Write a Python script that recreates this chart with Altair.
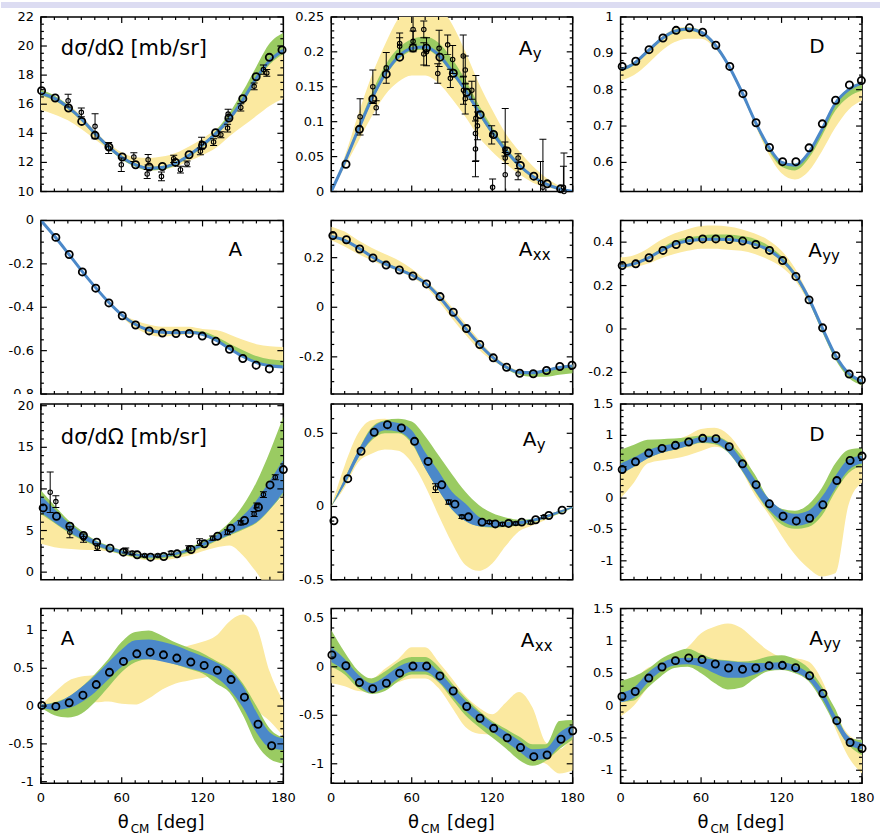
import altair as alt
import numpy as np
import pandas as pd

FONT = "DejaVu Sans"
YELLOW = "#fbe9a0"
GREEN = "#9acb62"
BLUE = "#4b88c9"
BAR = "#dcdcf2"

theta = [0, 10, 20, 30, 40, 50, 60, 70, 80, 90, 100, 110, 120, 130, 140, 150, 160, 170, 180]
x_labels = [0, 60, 120, 180]

# ---------------- panel 1 : dsigma/dOmega (upper set)
p1_line = [16.75, 16.4, 15.8, 15.0, 14.0, 13.1, 12.35, 11.85, 11.6, 11.65, 11.95, 12.5, 13.2, 14.0, 15.0, 16.3, 17.8, 19.0, 19.7]
p1_grn_lo = [16.6, 16.25, 15.65, 14.85, 13.85, 12.95, 12.2, 11.7, 11.45, 11.5, 11.8, 12.35, 13.05, 13.85, 14.85, 16.1, 17.55, 18.75, 19.45]
p1_grn_hi = [17.0, 16.6, 15.95, 15.1, 14.1, 13.2, 12.45, 11.95, 11.7, 11.75, 12.05, 12.6, 13.3, 14.2, 15.4, 16.9, 18.6, 20.2, 20.9]
p1_yel_lo = [15.6, 15.3, 14.9, 14.3, 13.6, 12.9, 12.2, 11.7, 11.45, 11.5, 11.7, 12.1, 12.5, 13.0, 13.8, 14.5, 15.2, 15.9, 16.4]
p1_yel_hi = [16.85, 16.5, 16.0, 15.2, 14.2, 13.3, 12.7, 12.35, 12.3, 12.4, 12.65, 13.1, 13.65, 14.3, 15.05, 16.3, 17.8, 19.0, 19.6]
p1_px = [0.5, 10.6, 20.5, 30.3, 40.2, 50.5, 60.4, 70.3, 80.4, 90.2, 99.9, 110, 120, 129.7, 139.6, 149.9, 159.8, 169.6, 179]
p1_py = [16.93, 16.43, 15.74, 14.82, 13.86, 13.06, 12.37, 11.84, 11.68, 11.72, 12.0, 12.53, 13.17, 14.04, 15.05, 16.38, 17.89, 19.22, 19.73]
p1_ex = [20.2, 30.0, 40.2, 50.3, 59.7, 69.0, 79.6, 78.9, 89.5, 98.6, 103.6, 108.5, 118.4, 119.3, 128.2, 133.6, 138.6, 139.0, 148.4, 158.3, 165.2, 167.7]
p1_ey = [16.24, 15.44, 14.48, 12.99, 11.84, 12.37, 12.18, 11.2, 11.04, 12.25, 11.5, 11.9, 12.76, 13.33, 13.4, 13.9, 14.36, 15.32, 15.78, 17.23, 18.38, 18.15]
p1_ee = [0.44, 0.3, 0.86, 0.38, 0.46, 0.3, 0.36, 0.31, 0.3, 0.25, 0.23, 0.2, 0.23, 0.4, 0.23, 0.2, 0.27, 0.34, 0.25, 0.23, 0.32, 0.23]

# ---------------- panel 2 : Ay (upper set)
p2_line = [0, 0.042, 0.088, 0.132, 0.168, 0.193, 0.205, 0.207, 0.196, 0.172, 0.145, 0.114, 0.085, 0.059, 0.038, 0.022, 0.011, 0.004, 0]
p2_grn_lo = [0, 0.039, 0.084, 0.128, 0.164, 0.189, 0.201, 0.203, 0.192, 0.168, 0.141, 0.11, 0.081, 0.056, 0.035, 0.02, 0.009, 0.003, 0]
p2_grn_hi = [0, 0.045, 0.093, 0.14, 0.18, 0.205, 0.218, 0.222, 0.213, 0.19, 0.16, 0.124, 0.092, 0.064, 0.041, 0.024, 0.012, 0.005, 0]
p2_yel_lo = [0, 0.035, 0.071, 0.107, 0.138, 0.157, 0.166, 0.166, 0.155, 0.133, 0.107, 0.078, 0.057, 0.040, 0.025, 0.013, 0.006, 0.002, 0]
p2_yel_hi = [0, 0.05, 0.11, 0.165, 0.21, 0.248, 0.27, 0.275, 0.265, 0.24, 0.20, 0.155, 0.117, 0.083, 0.058, 0.037, 0.02, 0.008, 0]
p2_px = [11, 21, 31, 41, 51, 61, 71, 81, 91, 101, 111, 121, 131, 141, 151, 161, 171]
p2_py = [0.039, 0.089, 0.1325, 0.168, 0.1924, 0.2054, 0.2054, 0.1924, 0.1694, 0.142, 0.110, 0.0816, 0.058, 0.0374, 0.022, 0.011, 0.0038]
p2_ex = [21.5, 31, 33.5, 41, 51, 51, 61, 61, 69, 69, 71, 80.4, 79.4, 86.8, 88.8, 90.5, 98.4, 99.9, 98.6, 104.8, 99.9, 107.8, 107.5, 107.5, 109, 119.6, 120.3, 129.5, 129.7, 129.7, 139.3, 139.3, 156, 157.8, 173.1, 173.5]
p2_ey = [0.107, 0.150, 0.12, 0.177, 0.212, 0.208, 0.232, 0.215, 0.232, 0.197, 0.20, 0.205, 0.169, 0.21, 0.162, 0.189, 0.194, 0.174, 0.145, 0.145, 0.133, 0.105, 0.083, 0.061, 0.094, 0.081, 0.006, 0.061, 0.048, 0.024, 0.048, 0.025, 0.013, 0.006, 0.006, 0.0]
p2_ee = [0.026, 0.024, 0.01, 0.022, 0.015, 0.012, 0.021, 0.015, 0.012, 0.016, 0.02, 0.026, 0.014, 0.014, 0.013, 0.02, 0.03, 0.02, 0.02, 0.013, 0.022, 0.061, 0.04, 0.04, 0.02, 0.013, 0.012, 0.01, 0.008, 0.095, 0.006, 0.008, 0.03, 0.069, 0.03, 0.055]

# ---------------- panel 3 : D (upper set)
p3_line = [0.855, 0.872, 0.905, 0.938, 0.960, 0.967, 0.958, 0.925, 0.870, 0.797, 0.715, 0.645, 0.600, 0.592, 0.625, 0.690, 0.762, 0.800, 0.818]
p3_grn_lo = [0.85, 0.867, 0.9, 0.933, 0.955, 0.962, 0.953, 0.92, 0.865, 0.79, 0.708, 0.635, 0.588, 0.578, 0.61, 0.672, 0.742, 0.78, 0.798]
p3_grn_hi = [0.859, 0.876, 0.909, 0.942, 0.964, 0.971, 0.962, 0.929, 0.874, 0.801, 0.719, 0.649, 0.604, 0.596, 0.629, 0.694, 0.766, 0.804, 0.822]
p3_yel_lo = [0.825, 0.84, 0.87, 0.905, 0.93, 0.94, 0.94, 0.915, 0.865, 0.79, 0.705, 0.625, 0.57, 0.553, 0.575, 0.63, 0.695, 0.745, 0.77]
p3_yel_hi = [0.86, 0.876, 0.91, 0.943, 0.967, 0.973, 0.963, 0.93, 0.875, 0.8, 0.718, 0.648, 0.603, 0.596, 0.628, 0.693, 0.765, 0.803, 0.82]
p3_px = [1.2, 11.3, 21.2, 31.6, 41.4, 51.3, 61.2, 71, 81.4, 91.2, 101, 111, 120.8, 130.7, 140.5, 150.4, 160.3, 170.6, 179.5]
p3_py = [0.864, 0.878, 0.910, 0.942, 0.963, 0.970, 0.958, 0.922, 0.864, 0.789, 0.709, 0.641, 0.602, 0.602, 0.640, 0.706, 0.771, 0.813, 0.825]

# ---------------- panel 4 : A (upper set)
p4_line = [0, -0.072, -0.150, -0.230, -0.305, -0.375, -0.435, -0.478, -0.505, -0.515, -0.517, -0.515, -0.525, -0.552, -0.59, -0.627, -0.655, -0.67, -0.675]
p4_grn_lo = [0, -0.076, -0.155, -0.235, -0.31, -0.38, -0.44, -0.483, -0.51, -0.52, -0.522, -0.52, -0.53, -0.557, -0.595, -0.632, -0.66, -0.675, -0.68]
p4_grn_hi = [0, -0.07, -0.148, -0.228, -0.303, -0.372, -0.432, -0.474, -0.5, -0.51, -0.512, -0.508, -0.512, -0.535, -0.568, -0.598, -0.625, -0.64, -0.645]
p4_yel_lo = [0, -0.074, -0.152, -0.232, -0.308, -0.378, -0.445, -0.495, -0.525, -0.535, -0.53, -0.525, -0.53, -0.55, -0.585, -0.62, -0.645, -0.66, -0.665]
p4_yel_hi = [0, -0.07, -0.148, -0.228, -0.302, -0.37, -0.43, -0.46, -0.48, -0.49, -0.49, -0.49, -0.50, -0.505, -0.525, -0.55, -0.57, -0.58, -0.583]
p4_px = [11.1, 21, 30.8, 40.7, 50.5, 60.4, 70.3, 80.4, 90.2, 100.3, 110.2, 119.8, 129.9, 140, 149.9, 159.8, 169.6]
p4_py = [-0.078, -0.157, -0.237, -0.312, -0.380, -0.439, -0.482, -0.509, -0.519, -0.521, -0.521, -0.533, -0.557, -0.594, -0.636, -0.667, -0.684]

# ---------------- panel 5 : Axx (upper set)
p5_line = [0.285, 0.27, 0.24, 0.205, 0.175, 0.153, 0.13, 0.098, 0.045, -0.02, -0.085, -0.147, -0.2, -0.24, -0.262, -0.264, -0.255, -0.243, -0.237]
p5_grn_lo = [0.28, 0.265, 0.235, 0.2, 0.17, 0.148, 0.125, 0.093, 0.04, -0.025, -0.09, -0.152, -0.206, -0.248, -0.272, -0.28, -0.28, -0.272, -0.266]
p5_grn_hi = [0.29, 0.275, 0.245, 0.21, 0.18, 0.158, 0.135, 0.103, 0.05, -0.015, -0.08, -0.142, -0.195, -0.235, -0.257, -0.259, -0.25, -0.238, -0.232]
p5_yel_lo = [0.27, 0.245, 0.215, 0.19, 0.165, 0.145, 0.12, 0.085, 0.025, -0.045, -0.11, -0.17, -0.215, -0.245, -0.265, -0.268, -0.258, -0.246, -0.24]
p5_yel_hi = [0.325, 0.305, 0.27, 0.24, 0.215, 0.19, 0.155, 0.11, 0.06, 0.0, -0.065, -0.13, -0.19, -0.23, -0.255, -0.26, -0.25, -0.238, -0.232]
p5_px = [1.2, 11.3, 21.2, 31.1, 40.9, 50.8, 60.9, 71, 81.1, 91, 100.8, 110.7, 120.8, 130.7, 140.5, 150.6, 160.5, 170.4, 179.5]
p5_py = [0.289, 0.272, 0.235, 0.199, 0.170, 0.150, 0.126, 0.094, 0.043, -0.020, -0.086, -0.150, -0.204, -0.242, -0.266, -0.268, -0.255, -0.239, -0.234]

# ---------------- panel 6 : Ayy (upper set)
p6_line = [0.29, 0.30, 0.325, 0.36, 0.39, 0.405, 0.412, 0.413, 0.412, 0.405, 0.39, 0.365, 0.32, 0.25, 0.145, 0.01, -0.12, -0.205, -0.24]
p6_grn_lo = [0.285, 0.295, 0.32, 0.355, 0.385, 0.4, 0.407, 0.408, 0.405, 0.398, 0.383, 0.357, 0.31, 0.238, 0.13, -0.01, -0.14, -0.225, -0.26]
p6_grn_hi = [0.295, 0.306, 0.332, 0.37, 0.405, 0.422, 0.43, 0.435, 0.435, 0.428, 0.415, 0.385, 0.335, 0.26, 0.152, 0.015, -0.115, -0.2, -0.235]
p6_yel_lo = [0.28, 0.285, 0.30, 0.325, 0.345, 0.36, 0.37, 0.37, 0.365, 0.36, 0.345, 0.32, 0.285, 0.225, 0.125, 0.0, -0.13, -0.215, -0.25]
p6_yel_hi = [0.33, 0.34, 0.37, 0.41, 0.44, 0.46, 0.475, 0.477, 0.472, 0.46, 0.44, 0.41, 0.36, 0.28, 0.16, 0.02, -0.11, -0.2, -0.235]
p6_px = [1.2, 11.3, 21.2, 31.6, 41.4, 51.3, 61.2, 71, 81.1, 91, 100.8, 111, 120.8, 130.7, 140.5, 150.6, 160.5, 170.4, 179.5]
p6_py = [0.292, 0.30, 0.328, 0.362, 0.389, 0.408, 0.415, 0.415, 0.412, 0.405, 0.389, 0.362, 0.315, 0.242, 0.134, 0.005, -0.123, -0.208, -0.235]

# ---------------- panel 7 : dsigma/dOmega (lower set)
p7_blu_lo = [7.2, 6.0, 4.9, 4.0, 3.3, 2.7, 2.25, 1.95, 1.75, 1.8, 2.05, 2.5, 3.1, 3.8, 4.5, 5.2, 6.0, 7.6, 9.6]
p7_blu_hi = [9.2, 7.6, 6.0, 4.8, 3.8, 3.1, 2.6, 2.25, 2.05, 2.1, 2.35, 2.85, 3.5, 4.4, 5.5, 6.8, 8.6, 11.0, 13.5]
p7_grn_lo = [7.0, 5.9, 4.8, 3.9, 3.2, 2.6, 2.15, 1.8, 1.6, 1.65, 1.9, 2.35, 2.95, 3.7, 4.4, 5.1, 5.9, 7.5, 9.4]
p7_grn_hi = [9.8, 8.0, 6.3, 5.0, 3.9, 3.2, 2.65, 2.3, 2.1, 2.15, 2.4, 2.95, 3.65, 4.6, 6.0, 8.0, 10.8, 14.5, 18.7]
p7_yel_lo = [3.4, 3.0, 2.8, 2.7, 2.65, 2.5, 2.1, 1.7, 1.45, 1.45, 1.65, 2.0, 2.5, 2.95, 3.2, 2.0, 0.0, -2.0, -2.0]
p7_yel_hi = [7.0, 6.2, 5.3, 4.4, 3.7, 3.1, 2.65, 2.3, 2.05, 2.05, 2.3, 2.75, 3.3, 3.8, 4.4, 5.2, 6.0, 7.5, 9.2]
p7_px = [1.7, 11.6, 21.5, 31.6, 41.4, 51.3, 61.2, 71.5, 81.4, 91.2, 101.1, 111.5, 121.3, 131.2, 141, 151.2, 161.5, 170.1, 180]
p7_py = [7.72, 6.72, 5.52, 4.4, 3.6, 2.88, 2.4, 2.08, 1.8, 1.88, 2.2, 2.72, 3.4, 4.32, 5.28, 6.2, 7.8, 10.48, 12.32]
p7_ex = [6.9, 11.1, 21.5, 31.6, 41.9, 63, 67.8, 77, 86.8, 96.7, 109.7, 117.8, 127.5, 138.5, 148.4, 158.3, 160.3, 165.2, 174]
p7_ey = [9.6, 8.48, 4.8, 4.08, 3.0, 2.6, 2.3, 2.0, 2.0, 2.32, 2.88, 3.6, 4.08, 4.8, 5.92, 7.0, 8.0, 9.32, 11.4]
p7_ee = [2.44, 0.7, 0.66, 0.5, 0.4, 0.3, 0.2, 0.15, 0.15, 0.2, 0.3, 0.4, 0.25, 0.3, 0.25, 0.3, 0.3, 0.35, 0.3]

# ---------------- panel 8 : Ay (lower set)
p8_blu_lo = [0, 0.15, 0.33, 0.46, 0.52, 0.51, 0.44, 0.26, 0.11, -0.02, -0.1, -0.135, -0.14, -0.135, -0.125, -0.105, -0.08, -0.045, -0.01]
p8_blu_hi = [0, 0.19, 0.38, 0.53, 0.58, 0.57, 0.52, 0.37, 0.24, 0.1, 0.02, -0.07, -0.1, -0.105, -0.1, -0.085, -0.06, -0.03, 0]
p8_grn_lo = [0, 0.15, 0.33, 0.45, 0.5, 0.5, 0.43, 0.26, 0.11, -0.02, -0.1, -0.135, -0.145, -0.14, -0.13, -0.11, -0.08, -0.05, -0.01]
p8_grn_hi = [0, 0.19, 0.38, 0.54, 0.59, 0.6, 0.58, 0.48, 0.35, 0.22, 0.1, 0.01, -0.045, -0.075, -0.09, -0.085, -0.06, -0.03, 0]
p8_yel_lo = [0, 0.13, 0.3, 0.36, 0.39, 0.38, 0.3, 0.14, -0.06, -0.25, -0.4, -0.44, -0.39, -0.27, -0.17, -0.13, -0.09, -0.05, -0.01]
p8_yel_hi = [0, 0.28, 0.5, 0.59, 0.6, 0.55, 0.48, 0.35, 0.2, 0.06, -0.04, -0.09, -0.11, -0.11, -0.1, -0.09, -0.06, -0.03, 0]
p8_px = [2, 12.3, 22.2, 32, 41.9, 52.3, 62.1, 72.2, 82.4, 92.2, 102.3, 112.4, 122.3, 132.2, 142, 152.4, 162.2, 172.1]
p8_py = [-0.098, 0.19, 0.377, 0.507, 0.559, 0.537, 0.445, 0.308, 0.148, 0.016, -0.071, -0.107, -0.119, -0.116, -0.107, -0.091, -0.062, -0.025]
p8_ex = [77.7, 87.5, 97.4, 117.9, 127.7, 137.6, 148.7, 158.5]
p8_ey = [0.126, 0.03, -0.071, -0.107, -0.121, -0.116, -0.11, -0.071]
p8_ee = [0.03, 0.015, 0.012, 0.01, 0.01, 0.01, 0.01, 0.01]

# ---------------- panel 9 : D (lower set)
p9_blu_lo = [0.38, 0.5, 0.63, 0.72, 0.77, 0.83, 0.89, 0.88, 0.74, 0.46, 0.12, -0.17, -0.36, -0.44, -0.4, -0.2, 0.15, 0.45, 0.55]
p9_blu_hi = [0.55, 0.65, 0.76, 0.83, 0.87, 0.92, 0.97, 0.97, 0.88, 0.62, 0.3, 0.0, -0.18, -0.25, -0.2, 0.02, 0.35, 0.62, 0.68]
p9_grn_lo = [0.38, 0.5, 0.63, 0.72, 0.77, 0.83, 0.88, 0.86, 0.73, 0.45, 0.11, -0.2, -0.42, -0.49, -0.46, -0.28, 0.1, 0.4, 0.52]
p9_grn_hi = [0.77, 0.85, 0.93, 0.94, 0.95, 0.97, 1.0, 0.99, 0.9, 0.68, 0.38, 0.0, -0.17, -0.2, -0.1, 0.16, 0.55, 0.77, 0.8]
p9_yel_lo = [0.0, 0.25, 0.55, 0.6, 0.63, 0.68, 0.75, 0.82, 0.75, 0.45, 0.05, -0.25, -0.6, -0.9, -1.12, -1.25, -1.2, -0.1, 0.25]
p9_yel_hi = [0.65, 0.75, 0.85, 0.88, 0.93, 1.0, 1.1, 1.12, 1.02, 0.75, 0.35, 0.0, -0.2, -0.3, -0.35, -0.2, 0.15, 0.5, 0.6]
p9_px = [1.2, 11.1, 21, 30.9, 40.9, 50.8, 61.2, 71.1, 81, 90.9, 101, 110.9, 121.1, 131, 140.9, 150.8, 161.2, 171.1, 180]
p9_py = [0.455, 0.578, 0.718, 0.793, 0.841, 0.894, 0.953, 0.948, 0.82, 0.546, 0.214, -0.091, -0.289, -0.364, -0.321, -0.107, 0.279, 0.6, 0.67]

# ---------------- panel 10 : A (lower set)
p10_blu_lo = [-0.02, -0.05, -0.03, 0.05, 0.18, 0.35, 0.52, 0.62, 0.62, 0.59, 0.55, 0.5, 0.45, 0.38, 0.22, -0.02, -0.35, -0.55, -0.58]
p10_blu_hi = [0.02, 0.04, 0.12, 0.25, 0.4, 0.58, 0.75, 0.87, 0.88, 0.85, 0.8, 0.73, 0.66, 0.58, 0.47, 0.27, -0.08, -0.35, -0.43]
p10_grn_lo = [-0.02, -0.12, -0.15, -0.1, 0.05, 0.25, 0.45, 0.58, 0.62, 0.6, 0.55, 0.49, 0.43, 0.3, 0.18, -0.12, -0.5, -0.7, -0.76]
p10_grn_hi = [0.02, 0.05, 0.12, 0.25, 0.42, 0.62, 0.85, 0.98, 1.0, 0.93, 0.84, 0.77, 0.7, 0.6, 0.5, 0.3, 0.0, -0.3, -0.42]
p10_yel_lo = [-0.01, -0.02, 0.0, 0.06, 0.05, 0.06, 0.03, 0.02, 0.1, 0.22, 0.3, 0.34, 0.37, 0.4, 0.38, 0.2, -0.05, -0.2, -0.4]
p10_yel_hi = [0.01, 0.18, 0.33, 0.39, 0.41, 0.5, 0.65, 0.74, 0.77, 0.76, 0.76, 0.8, 0.85, 0.93, 1.12, 1.21, 1.05, 0.45, 0.06]
p10_px = [0.7, 11.1, 21, 31.2, 41.1, 50.9, 61.3, 71.2, 81.1, 91, 100.9, 111.3, 121.2, 131, 141.2, 151.1, 161.2, 171.3]
p10_py = [0.009, -0.004, 0.044, 0.144, 0.284, 0.446, 0.591, 0.691, 0.713, 0.678, 0.635, 0.582, 0.538, 0.473, 0.35, 0.118, -0.241, -0.525]

# ---------------- panel 11 : Axx (lower set)
p11_blu_lo = [0.05, -0.04, -0.18, -0.27, -0.22, -0.12, -0.05, -0.05, -0.15, -0.3, -0.45, -0.57, -0.67, -0.77, -0.87, -0.96, -0.95, -0.82, -0.72]
p11_blu_hi = [0.2, 0.08, -0.08, -0.17, -0.1, 0.0, 0.05, 0.05, -0.05, -0.2, -0.35, -0.47, -0.58, -0.67, -0.76, -0.85, -0.84, -0.68, -0.6]
p11_grn_lo = [0.0, -0.08, -0.22, -0.28, -0.25, -0.15, -0.08, -0.08, -0.16, -0.33, -0.5, -0.62, -0.73, -0.84, -0.96, -1.02, -0.97, -0.85, -0.75]
p11_grn_hi = [0.38, 0.15, -0.04, -0.12, -0.05, 0.05, 0.1, 0.1, 0.0, -0.17, -0.32, -0.45, -0.56, -0.64, -0.72, -0.8, -0.8, -0.56, -0.55]
p11_yel_lo = [-0.17, -0.2, -0.25, -0.26, -0.22, -0.16, -0.12, -0.12, -0.22, -0.42, -0.62, -0.69, -0.7, -0.75, -0.85, -0.95, -1.0, -1.1, -1.07]
p11_yel_hi = [0.1, 0.05, -0.08, -0.12, -0.02, 0.08, 0.2, 0.2, 0.05, -0.12, -0.3, -0.42, -0.49, -0.37, -0.26, -0.42, -0.78, -0.85, -0.7]
p11_px = [0.5, 10.9, 21, 30.9, 41.1, 51, 60.9, 71.1, 81, 90.9, 101, 110.9, 121.1, 131.2, 141.1, 151, 160.9, 171.3, 180]
p11_py = [0.122, 0.01, -0.163, -0.226, -0.17, -0.066, 0.007, 0.007, -0.094, -0.25, -0.41, -0.531, -0.635, -0.733, -0.833, -0.927, -0.91, -0.747, -0.66]

# ---------------- panel 12 : Ayy (lower set)
p12_blu_lo = [0.05, 0.12, 0.35, 0.53, 0.62, 0.64, 0.6, 0.5, 0.43, 0.43, 0.48, 0.55, 0.56, 0.52, 0.4, 0.12, -0.28, -0.6, -0.68]
p12_blu_hi = [0.2, 0.28, 0.5, 0.65, 0.73, 0.74, 0.73, 0.71, 0.69, 0.67, 0.66, 0.66, 0.67, 0.62, 0.5, 0.25, -0.15, -0.48, -0.58]
p12_grn_lo = [0.06, 0.08, 0.27, 0.45, 0.58, 0.6, 0.5, 0.35, 0.25, 0.28, 0.42, 0.53, 0.55, 0.5, 0.38, 0.08, -0.3, -0.61, -0.77]
p12_grn_hi = [0.38, 0.45, 0.56, 0.72, 0.82, 0.88, 0.8, 0.72, 0.7, 0.68, 0.7, 0.76, 0.78, 0.72, 0.58, 0.3, -0.05, -0.5, -0.53]
p12_yel_lo = [-0.17, 0.0, 0.27, 0.5, 0.6, 0.63, 0.62, 0.6, 0.58, 0.57, 0.57, 0.58, 0.58, 0.55, 0.43, 0.15, -0.35, -0.8, -1.05]
p12_yel_hi = [0.3, 0.4, 0.58, 0.65, 0.75, 0.9, 1.12, 1.22, 1.27, 1.2, 1.02, 0.85, 0.75, 0.73, 0.68, 0.4, -0.1, -0.45, -0.55]
p12_px = [1, 10.9, 21, 30.9, 40.9, 50.8, 60.7, 70.6, 80.5, 90.9, 100.8, 110.7, 120.6, 130.5, 140.9, 150.8, 161.2, 171.1, 180]
p12_py = [0.14, 0.218, 0.425, 0.596, 0.695, 0.737, 0.711, 0.643, 0.581, 0.56, 0.581, 0.617, 0.622, 0.586, 0.462, 0.187, -0.233, -0.571, -0.664]

DSIG = "d\u03c3/d\u03a9 [mb/sr]"

panels = [
    dict(ydom=[10, 22], yt=[10, 12, 14, 16, 18, 20, 22], mstep=0.5,
         yel=(p1_yel_lo, p1_yel_hi), grn=(p1_grn_lo, p1_grn_hi), line=p1_line,
         pts=(p1_px, p1_py), err=(p1_ex, p1_ey, p1_ee), lab=(DSIG, ""), lx=20, ly=38, lsize=21),
    dict(ydom=[0, 0.25], yt=[0, 0.05, 0.1, 0.15, 0.2, 0.25], mstep=0.01,
         yel=(p2_yel_lo, p2_yel_hi), grn=(p2_grn_lo, p2_grn_hi), line=p2_line,
         pts=(p2_px, p2_py), err=(p2_ex, p2_ey, p2_ee), lab=("A", "y"), lx=188, ly=38, lsize=20),
    dict(ydom=[0.52, 1.0], yt=[0.6, 0.7, 0.8, 0.9, 1.0], mstep=0.02,
         yel=(p3_yel_lo, p3_yel_hi), grn=(p3_grn_lo, p3_grn_hi), line=p3_line,
         pts=(p3_px, p3_py), lab=("D", ""), lx=189, ly=36, lsize=20),
    dict(ydom=[-0.8, 0], yt=[-0.8, -0.6, -0.4, -0.2, 0], mstep=0.05,
         yel=(p4_yel_lo, p4_yel_hi), grn=(p4_grn_lo, p4_grn_hi), line=p4_line,
         pts=(p4_px, p4_py), lab=("A", ""), lx=188, ly=36, lsize=20),
    dict(ydom=[-0.35, 0.35], yt=[-0.2, 0, 0.2], mstep=0.05,
         yel=(p5_yel_lo, p5_yel_hi), grn=(p5_grn_lo, p5_grn_hi), line=p5_line,
         pts=(p5_px, p5_py), lab=("A", "xx"), lx=188, ly=36, lsize=20),
    dict(ydom=[-0.3, 0.5], yt=[-0.2, 0, 0.2, 0.4], mstep=0.05,
         yel=(p6_yel_lo, p6_yel_hi), grn=(p6_grn_lo, p6_grn_hi), line=p6_line,
         pts=(p6_px, p6_py), lab=("A", "yy"), lx=188, ly=37, lsize=20),
    dict(ydom=[-0.9, 20.2], yt=[0, 5, 10, 15, 20], mstep=1.0,
         yel=(p7_yel_lo, p7_yel_hi), grn=(p7_grn_lo, p7_grn_hi), blu=(p7_blu_lo, p7_blu_hi),
         pts=(p7_px, p7_py), err=(p7_ex, p7_ey, p7_ee), lab=(DSIG, ""), lx=20, ly=40, lsize=21,
         cover=True),
    dict(ydom=[-0.5, 0.7], yt=[-0.5, 0, 0.5], mstep=0.1,
         yel=(p8_yel_lo, p8_yel_hi), grn=(p8_grn_lo, p8_grn_hi), blu=(p8_blu_lo, p8_blu_hi),
         pts=(p8_px, p8_py), err=(p8_ex, p8_ey, p8_ee), lab=("A", "y"), lx=192, ly=42, lsize=20),
    dict(ydom=[-1.3, 1.5], yt=[-1, -0.5, 0, 0.5, 1, 1.5], mstep=0.1,
         yel=(p9_yel_lo, p9_yel_hi), grn=(p9_grn_lo, p9_grn_hi), blu=(p9_blu_lo, p9_blu_hi),
         pts=(p9_px, p9_py), lab=("D", ""), lx=189, ly=37, lsize=20),
    dict(ydom=[-1.02, 1.29], yt=[-1, -0.5, 0, 0.5, 1], mstep=0.1,
         yel=(p10_yel_lo, p10_yel_hi), grn=(p10_grn_lo, p10_grn_hi), blu=(p10_blu_lo, p10_blu_hi),
         pts=(p10_px, p10_py), lab=("A", ""), lx=20, ly=37, lsize=20),
    dict(ydom=[-1.2, 0.6], yt=[-1, -0.5, 0, 0.5], mstep=0.1,
         yel=(p11_yel_lo, p11_yel_hi), grn=(p11_grn_lo, p11_grn_hi), blu=(p11_blu_lo, p11_blu_hi),
         pts=(p11_px, p11_py), lab=("A", "xx"), lx=190, ly=39, lsize=20),
    dict(ydom=[-1.2, 1.5], yt=[-1, -0.5, 0, 0.5, 1, 1.5], mstep=0.1,
         yel=(p12_yel_lo, p12_yel_hi), grn=(p12_grn_lo, p12_grn_hi), blu=(p12_blu_lo, p12_blu_hi),
         pts=(p12_px, p12_py), lab=("A", "yy"), lx=189, ly=37, lsize=20),
]

COL_W = [243, 242, 242]
ROW_H = [175, 174, 176, 175]
xs = alt.Scale(domain=[0, 180], nice=False, zero=False)


def fmt(v):
    return "%g" % v


def minor_vals(dom, step, majors):
    lo, hi = min(dom), max(dom)
    start = np.ceil(lo / step - 1e-9) * step
    vals = np.arange(start, hi + 1e-9, step)
    return [round(float(v), 6) for v in vals if all(abs(v - m) > step / 10 for m in majors)]


def text_layer(s, x, y, size):
    return alt.Chart(pd.DataFrame({"t": [s]})).mark_text(
        align="left", baseline="alphabetic", font=FONT, fontSize=size, color="black"
    ).encode(text="t:N", x=alt.value(x), y=alt.value(y))


def make_panel(idx, p):
    row, col = divmod(idx, 3)
    W, H = COL_W[col], ROW_H[row]
    ys = alt.Scale(domain=p["ydom"], nice=False, zero=False)
    layers = []
    for key, colr in (("yel", YELLOW), ("grn", GREEN), ("blu", BLUE)):
        if key not in p:
            continue
        lo, hi = p[key]
        d = pd.DataFrame({"th": theta, "lo": lo, "hi": hi})
        layers.append(alt.Chart(d).mark_area(color=colr, interpolate="monotone", clip=True, opacity=1).encode(
            x=alt.X("th:Q", scale=xs, axis=None),
            y=alt.Y("lo:Q", scale=ys, axis=None),
            y2="hi:Q"))
    if "line" in p:
        d = pd.DataFrame({"th": theta, "v": p["line"]})
        layers.append(alt.Chart(d).mark_line(color=BLUE, strokeWidth=3, interpolate="monotone", clip=True).encode(
            x=alt.X("th:Q", scale=xs, axis=None), y=alt.Y("v:Q", scale=ys, axis=None)))
    if "err" in p:
        ex, ey, ee = p["err"]
        d = pd.DataFrame({"th": ex, "v": ey, "e": ee})
        d["lo"] = d["v"] - d["e"]
        d["hi"] = d["v"] + d["e"]
        layers.append(alt.Chart(d).mark_rule(color="black", strokeWidth=1, clip=True).encode(
            x=alt.X("th:Q", scale=xs, axis=None), y=alt.Y("lo:Q", scale=ys, axis=None), y2="hi:Q"))
        for f in ("lo", "hi"):
            layers.append(alt.Chart(d).mark_tick(color="black", orient="horizontal", size=7, thickness=1,
                                                 opacity=1, clip=True).encode(
                x=alt.X("th:Q", scale=xs, axis=None), y=alt.Y(f + ":Q", scale=ys, axis=None)))
        layers.append(alt.Chart(d).mark_point(shape="circle", filled=False, color="black", size=20,
                                              strokeWidth=1.1, opacity=1).encode(
            x=alt.X("th:Q", scale=xs, axis=None), y=alt.Y("v:Q", scale=ys, axis=None)))
    px, py = p["pts"]
    d = pd.DataFrame({"th": px, "v": py})
    layers.append(alt.Chart(d).mark_point(shape="circle", filled=False, color="black", size=52,
                                          strokeWidth=1.8, opacity=1).encode(
        x=alt.X("th:Q", scale=xs, axis=None), y=alt.Y("v:Q", scale=ys, axis=None)))
    # frame ticks (inward, on all four sides)
    ymaj = [v for v in p["yt"] if min(p["ydom"]) <= v <= max(p["ydom"])]
    ymin = minor_vals(p["ydom"], p["mstep"], ymaj)
    xmin = minor_vals([0, 180], 10, x_labels)
    for vals, ln in ((ymaj, 6), (ymin, 3)):
        d = pd.DataFrame({"v": vals})
        layers.append(alt.Chart(d).mark_rule(color="black", strokeWidth=1.2).encode(
            y=alt.Y("v:Q", scale=ys, axis=None), x=alt.value(0), x2=alt.value(ln)))
        layers.append(alt.Chart(d).mark_rule(color="black", strokeWidth=1.2).encode(
            y=alt.Y("v:Q", scale=ys, axis=None), x=alt.value(W - ln), x2=alt.value(W)))
    for vals, ln in ((x_labels, 6), (xmin, 3)):
        d = pd.DataFrame({"v": vals})
        layers.append(alt.Chart(d).mark_rule(color="black", strokeWidth=1.2).encode(
            x=alt.X("v:Q", scale=xs, axis=None), y=alt.value(H - ln), y2=alt.value(H)))
        layers.append(alt.Chart(d).mark_rule(color="black", strokeWidth=1.2).encode(
            x=alt.X("v:Q", scale=xs, axis=None), y=alt.value(0), y2=alt.value(ln)))
    # the lower figure's white background hides the bottom of the label above it
    if p.get("cover"):
        layers.append(alt.Chart(pd.DataFrame({"a": [0]})).mark_rect(color="white").encode(
            x=alt.value(-40), x2=alt.value(-2), y=alt.value(-10), y2=alt.value(-3)))
    # y tick labels
    dl = pd.DataFrame({"v": ymaj, "s": [fmt(v) for v in ymaj]})
    layers.append(alt.Chart(dl).mark_text(align="right", baseline="middle", font=FONT, fontSize=13,
                                          color="black").encode(
        y=alt.Y("v:Q", scale=ys, axis=None), x=alt.value(-7), text="s:N"))
    # panel label
    main, sub = p["lab"]
    layers.append(text_layer(main, p["lx"], p["ly"], p["lsize"]))
    if sub:
        layers.append(text_layer(sub, p["lx"] + 14, p["ly"] + 4, 15))
    # x tick labels and axis title on the bottom row
    if row == 3:
        dx = pd.DataFrame({"v": x_labels, "s": [fmt(v) for v in x_labels]})
        layers.append(alt.Chart(dx).mark_text(align="center", baseline="middle", font=FONT, fontSize=13,
                                              color="black").encode(
            x=alt.X("v:Q", scale=xs, axis=None), y=alt.value(H + 15), text="s:N"))
        layers.append(text_layer("\u03b8", 77, H + 45, 18))
        layers.append(text_layer("CM", 90, H + 50, 12))
        layers.append(text_layer("[deg]", 116, H + 45, 18))
    # light strip at the very top of the figure
    if idx == 0:
        layers.append(alt.Chart(pd.DataFrame({"a": [0]})).mark_rect(color=BAR).encode(
            x=alt.value(-40), x2=alt.value(841), y=alt.value(-15), y2=alt.value(-9)))
    return alt.layer(*layers).properties(width=W, height=H)


def spacer(col):
    return alt.Chart(pd.DataFrame({"a": [0]})).mark_point(opacity=0).encode(
        x=alt.X("a:Q", axis=None), y=alt.Y("a:Q", axis=None)
    ).properties(width=COL_W[col], height=9, view=alt.ViewBackground(strokeOpacity=0))


charts = [make_panel(i, p) for i, p in enumerate(panels)]
cells = charts[0:3] + [spacer(c) for c in range(3)] + charts[3:9] + [spacer(c) for c in range(3)] + charts[9:12]

chart = alt.concat(
    *cells, columns=3, spacing={"row": 10, "column": 48}, bounds="flush", padding=0
).configure_view(stroke="black", strokeWidth=1.5)

chart.save("out.html", embed_options={"renderer": "svg", "actions": False})
